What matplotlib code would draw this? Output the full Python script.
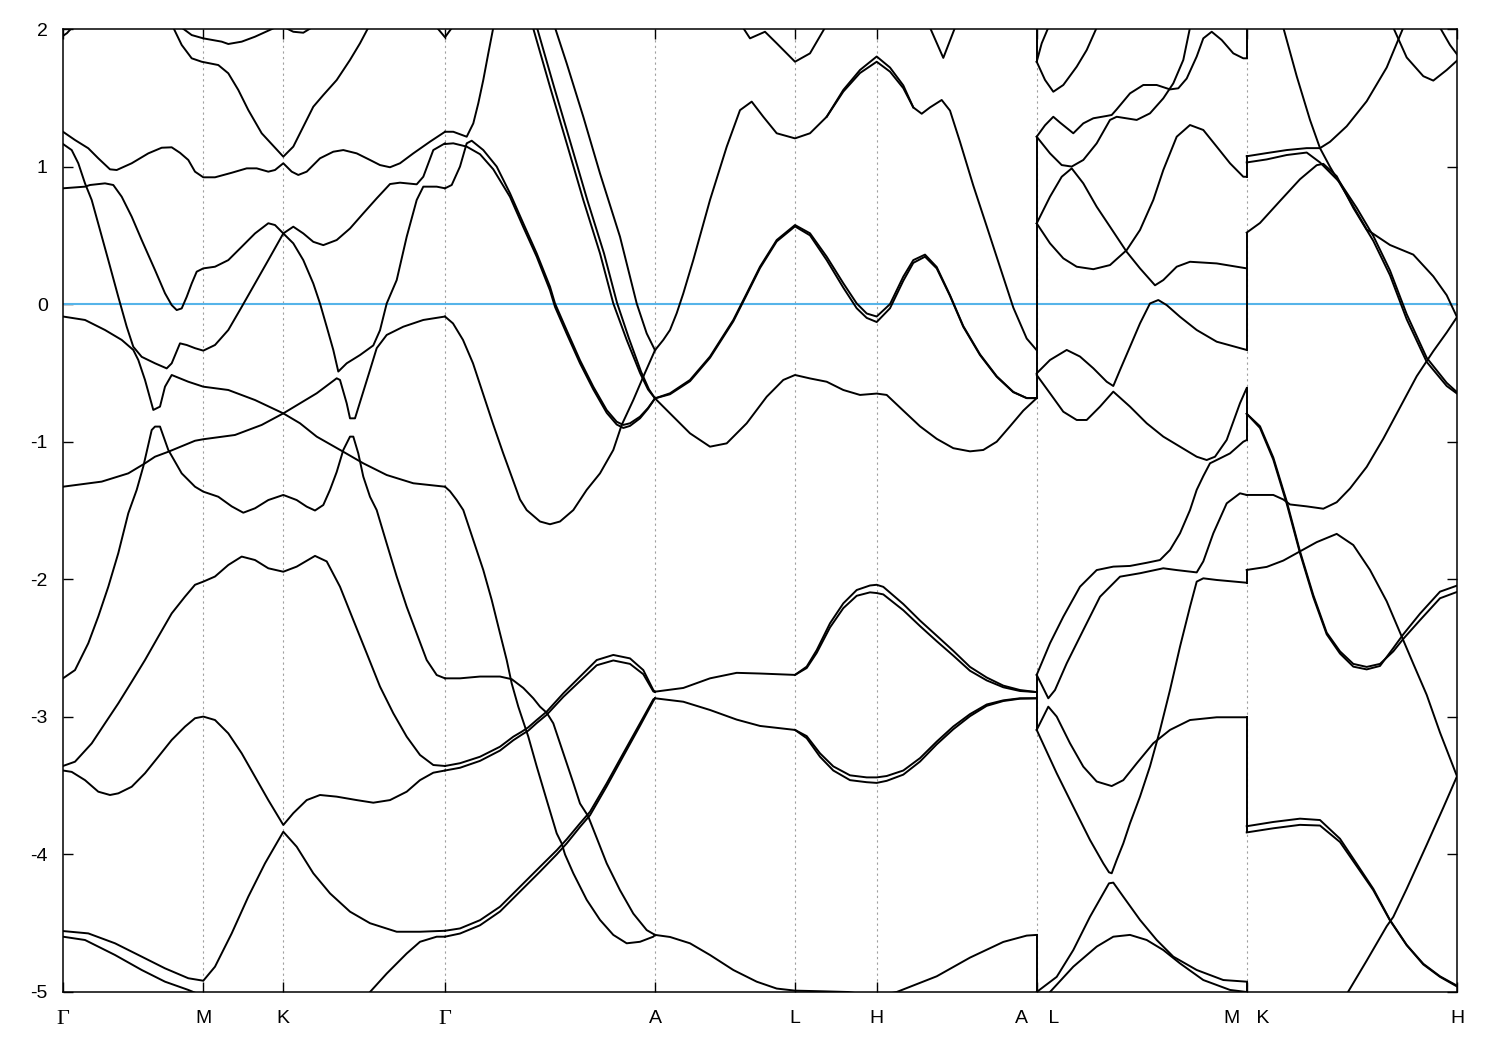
import numpy as np
import matplotlib
matplotlib.use('Agg')
import matplotlib.pyplot as plt

plt.rcParams['font.family'] = ['Liberation Sans', 'DejaVu Sans']
plt.rcParams['axes.unicode_minus'] = False

# high-symmetry points along the k-path (path length units)
k_ticks = [0.0, 1.403, 2.203, 3.82, 5.92, 7.32, 8.137, 9.737, 11.837, 13.94]
k_labels = ['Γ', 'M', 'K', 'Γ', 'A', 'L', 'H', 'A    L', 'M   K', 'H']
e_ticks = [-5, -4, -3, -2, -1, 0, 1, 2]
e_fermi = 0.0

# Gamma - M - K - Gamma, each branch as (k, E) pairs
bands_GMKG = [
    [(0.0, 1.95), (0.04, 1.97), (0.09, 2.01)],
    [(1.103, 2.01), (1.187, 1.884), (1.287, 1.787), (1.387, 1.762), (1.553, 1.738), (1.653, 1.678), (1.753, 1.557),
     (1.853, 1.411), (1.987, 1.242), (2.203, 1.072), (2.303, 1.145), (2.403, 1.29), (2.503, 1.435), (2.603, 1.52),
     (2.737, 1.629), (2.87, 1.775), (2.97, 1.896), (3.053, 2.01)],
    [(1.187, 2.01), (1.287, 1.956), (1.403, 1.932), (1.587, 1.908), (1.653, 1.891), (1.787, 1.908), (1.92, 1.944),
     (2.12, 2.01)],
    [(2.22, 2.01), (2.303, 1.98), (2.403, 1.973), (2.487, 2.01)],
    [(3.74, 2.01), (3.82, 1.94), (3.89, 2.01)],
    [(0.0, 1.253), (0.12, 1.193), (0.253, 1.133), (0.353, 1.06), (0.47, 0.98), (0.537, 0.975), (0.687, 1.024),
     (0.853, 1.096), (0.987, 1.137), (1.087, 1.14), (1.17, 1.10), (1.253, 1.048), (1.32, 0.963), (1.403, 0.922),
     (1.52, 0.922), (1.687, 0.955), (1.837, 0.987), (1.937, 0.987), (2.053, 0.963), (2.12, 0.975), (2.203, 1.024),
     (2.287, 0.963), (2.353, 0.939), (2.437, 0.963), (2.57, 1.06), (2.703, 1.108), (2.803, 1.12), (2.937, 1.096),
     (3.07, 1.048), (3.17, 1.011), (3.27, 0.995), (3.37, 1.024), (3.503, 1.096), (3.67, 1.181), (3.82, 1.253)],
    [(0.0, 1.164), (0.087, 1.12), (0.153, 1.024), (0.22, 0.878), (0.287, 0.757), (0.37, 0.539), (0.453, 0.32),
     (0.553, 0.053), (0.637, -0.164), (0.703, -0.31), (0.787, -0.383), (0.92, -0.43), (1.037, -0.467), (1.087, -0.43),
     (1.17, -0.285), (1.237, -0.297), (1.32, -0.32), (1.403, -0.338), (1.52, -0.297), (1.653, -0.188), (1.787, -0.02),
     (1.92, 0.15), (2.053, 0.32), (2.203, 0.514), (2.303, 0.563), (2.403, 0.514), (2.503, 0.453), (2.603, 0.429),
     (2.737, 0.466), (2.87, 0.55), (3.003, 0.66), (3.137, 0.769), (3.27, 0.873), (3.37, 0.883), (3.537, 0.871),
     (3.603, 0.926), (3.703, 1.12), (3.82, 1.169)],
    [(0.0, 0.842), (0.22, 0.854), (0.27, 0.866), (0.42, 0.878), (0.503, 0.866), (0.587, 0.781), (0.687, 0.636),
     (0.787, 0.466), (0.92, 0.248), (1.02, 0.079), (1.087, -0.007), (1.137, -0.043), (1.187, -0.031), (1.237, 0.053),
     (1.287, 0.15), (1.337, 0.236), (1.403, 0.26), (1.52, 0.272), (1.653, 0.32), (1.787, 0.417), (1.92, 0.514),
     (2.053, 0.588), (2.12, 0.575), (2.203, 0.514), (2.303, 0.442), (2.403, 0.32), (2.503, 0.15), (2.57, 0.005),
     (2.637, -0.164), (2.703, -0.333), (2.753, -0.49), (2.837, -0.43), (2.97, -0.37), (3.103, -0.30), (3.17, -0.19),
     (3.237, 0.005), (3.337, 0.175), (3.437, 0.49), (3.537, 0.757), (3.603, 0.854), (3.737, 0.854), (3.82, 0.842)],
    [(0.0, -0.09), (0.22, -0.115), (0.42, -0.188), (0.587, -0.26), (0.703, -0.333), (0.753, -0.406), (0.82, -0.551),
     (0.903, -0.769), (0.97, -0.745), (1.02, -0.6), (1.087, -0.515), (1.253, -0.564), (1.403, -0.6), (1.653, -0.624),
     (1.92, -0.697), (2.203, -0.794), (2.37, -0.721), (2.537, -0.648), (2.737, -0.539), (2.77, -0.551),
     (2.837, -0.721), (2.87, -0.83), (2.92, -0.83), (2.987, -0.673), (3.07, -0.479), (3.137, -0.32), (3.237, -0.224),
     (3.403, -0.164), (3.603, -0.115), (3.82, -0.09)],
    [(0.0, -1.327), (0.387, -1.29), (0.653, -1.23), (0.82, -1.157), (0.92, -1.109), (1.053, -1.073), (1.32, -0.993),
     (1.403, -0.982), (1.72, -0.951), (1.987, -0.878), (2.203, -0.794), (2.37, -0.866), (2.537, -0.963),
     (2.803, -1.073), (3.003, -1.157), (3.237, -1.242), (3.503, -1.302), (3.82, -1.327)],
    [(0.0, -2.72), (0.12, -2.66), (0.253, -2.465), (0.353, -2.27), (0.453, -2.054), (0.553, -1.81), (0.653, -1.52),
     (0.737, -1.35), (0.803, -1.18), (0.887, -0.915), (0.92, -0.89), (0.97, -0.89), (1.053, -1.06), (1.187, -1.23),
     (1.32, -1.327), (1.403, -1.363), (1.553, -1.40), (1.687, -1.47), (1.803, -1.516), (1.92, -1.484),
     (2.053, -1.424), (2.203, -1.387), (2.337, -1.424), (2.437, -1.472), (2.52, -1.50), (2.603, -1.46),
     (2.67, -1.35), (2.737, -1.22), (2.803, -1.06), (2.87, -0.963), (2.903, -0.963), (2.953, -1.085),
     (3.003, -1.254), (3.07, -1.40), (3.137, -1.497), (3.237, -1.74), (3.337, -1.98), (3.437, -2.20),
     (3.537, -2.394), (3.637, -2.587), (3.737, -2.696), (3.82, -2.72)],
    [(0.0, -3.357), (0.12, -3.326), (0.287, -3.193), (0.42, -3.047), (0.553, -2.902), (0.687, -2.745),
     (0.82, -2.587), (0.953, -2.417), (1.087, -2.248), (1.22, -2.126), (1.32, -2.04), (1.403, -2.017), (1.52, -1.98),
     (1.653, -1.896), (1.787, -1.835), (1.92, -1.86), (2.053, -1.92), (2.203, -1.945), (2.337, -1.908),
     (2.52, -1.83), (2.637, -1.87), (2.77, -2.054), (2.903, -2.296), (3.037, -2.538), (3.17, -2.78),
     (3.303, -2.974), (3.437, -3.144), (3.57, -3.277), (3.703, -3.35), (3.82, -3.357)],
    [(0.0, -3.39), (0.087, -3.40), (0.22, -3.46), (0.353, -3.544), (0.47, -3.568), (0.553, -3.556), (0.687, -3.508),
     (0.82, -3.41), (0.953, -3.29), (1.087, -3.168), (1.22, -3.071), (1.32, -3.01), (1.403, -2.998), (1.52, -3.023),
     (1.653, -3.12), (1.787, -3.265), (1.92, -3.435), (2.053, -3.605), (2.203, -3.786), (2.303, -3.70),
     (2.437, -3.605), (2.57, -3.568), (2.737, -3.58), (2.937, -3.605), (3.103, -3.624), (3.27, -3.605),
     (3.437, -3.544), (3.57, -3.46), (3.703, -3.406), (3.82, -3.39)],
    [(0.0, -4.557), (0.253, -4.574), (0.52, -4.646), (0.787, -4.743), (1.02, -4.828), (1.253, -4.9), (1.403, -4.918),
     (1.52, -4.816), (1.687, -4.574), (1.853, -4.307), (2.02, -4.065), (2.203, -3.835), (2.337, -3.944),
     (2.503, -4.137), (2.67, -4.283), (2.87, -4.416), (3.07, -4.50), (3.337, -4.562), (3.57, -4.562),
     (3.82, -4.555)],
    [(0.0, -4.598), (0.22, -4.622), (0.52, -4.731), (0.787, -4.84), (1.02, -4.925), (1.253, -4.985), (1.403, -5.03)],
    [(3.05, -5.03), (3.07, -5.0), (3.237, -4.866), (3.437, -4.72), (3.57, -4.635), (3.737, -4.598), (3.82, -4.598)],
]

# Gamma - A
bands_GA = [
    [(3.82, 1.253), (3.903, 1.253), (4.037, 1.217), (4.103, 1.314), (4.153, 1.46), (4.203, 1.63), (4.253, 1.823),
     (4.303, 2.01)],
    [(3.82, 0.842), (3.887, 0.866), (3.97, 1.0), (4.037, 1.169), (4.087, 1.188), (4.203, 1.12), (4.337, 1.0),
     (4.47, 0.806), (4.603, 0.587), (4.737, 0.369), (4.87, 0.127), (4.92, 0.005), (5.037, -0.19), (5.17, -0.408),
     (5.303, -0.60), (5.437, -0.77), (5.537, -0.855), (5.603, -0.878), (5.67, -0.866), (5.77, -0.818),
     (5.85, -0.755), (5.92, -0.685)],
    [(3.82, 1.164), (3.903, 1.169), (4.037, 1.145), (4.17, 1.09), (4.303, 0.98), (4.47, 0.78), (4.603, 0.56),
     (4.737, 0.345), (4.87, 0.10), (4.92, -0.02), (5.037, -0.215), (5.17, -0.43), (5.303, -0.62), (5.437, -0.79),
     (5.537, -0.875), (5.603, -0.9), (5.67, -0.885), (5.77, -0.83), (5.85, -0.76), (5.92, -0.685)],
    [(3.82, -0.09), (3.90, -0.14), (4.0, -0.26), (4.10, -0.43), (4.20, -0.65), (4.30, -0.87), (4.40, -1.08),
     (4.50, -1.28), (4.57, -1.42), (4.637, -1.497), (4.77, -1.58), (4.87, -1.60), (4.97, -1.58), (5.103, -1.497),
     (5.237, -1.35), (5.37, -1.23), (5.503, -1.06), (5.587, -0.878), (5.703, -0.697), (5.803, -0.527),
     (5.92, -0.335)],
    [(4.70, 2.01), (4.87, 1.58), (5.037, 1.169), (5.203, 0.757), (5.37, 0.369), (5.503, 0.005), (5.637, -0.26),
     (5.77, -0.50), (5.85, -0.62), (5.92, -0.685)],
    [(4.74, 2.01), (4.91, 1.58), (5.077, 1.169), (5.243, 0.757), (5.41, 0.369), (5.54, 0.01), (5.66, -0.25),
     (5.78, -0.49), (5.86, -0.62), (5.92, -0.685)],
    [(4.92, 2.01), (5.037, 1.75), (5.203, 1.362), (5.37, 0.95), (5.57, 0.49), (5.737, 0.005), (5.837, -0.213),
     (5.92, -0.335)],
    [(3.82, -1.327), (3.87, -1.36), (3.937, -1.424), (4.003, -1.497), (4.103, -1.715), (4.203, -1.933),
     (4.287, -2.15), (4.37, -2.393), (4.437, -2.587), (4.487, -2.757), (4.553, -2.926), (4.603, -3.035),
     (4.653, -3.144), (4.737, -3.36), (4.837, -3.605), (4.937, -3.847), (4.987, -3.92), (5.02, -4.0),
     (5.103, -4.137), (5.237, -4.33), (5.37, -4.476), (5.503, -4.585), (5.637, -4.646), (5.77, -4.635),
     (5.903, -4.598), (5.92, -4.585)],
    [(3.82, -4.555), (3.97, -4.538), (4.17, -4.478), (4.37, -4.38), (4.57, -4.235), (4.77, -4.09), (4.937, -3.97),
     (5.037, -3.89), (5.17, -3.774), (5.27, -3.69), (5.437, -3.483), (5.603, -3.265), (5.77, -3.047),
     (5.903, -2.873), (5.92, -2.865)],
    [(3.82, -4.598), (3.97, -4.575), (4.17, -4.515), (4.37, -4.415), (4.57, -4.27), (4.77, -4.125), (4.937, -4.0),
     (5.037, -3.92), (5.17, -3.80), (5.27, -3.715), (5.437, -3.505), (5.603, -3.285), (5.77, -3.065),
     (5.903, -2.885), (5.92, -2.865)],
    [(3.82, -3.357), (3.97, -3.337), (4.17, -3.29), (4.37, -3.217), (4.503, -3.144), (4.587, -3.108),
     (4.653, -3.076), (4.737, -3.023), (4.837, -2.962), (5.003, -2.829), (5.17, -2.708), (5.337, -2.587),
     (5.503, -2.55), (5.67, -2.575), (5.803, -2.66), (5.903, -2.805), (5.92, -2.817)],
    [(3.82, -3.39), (3.97, -3.37), (4.17, -3.32), (4.37, -3.245), (4.503, -3.17), (4.587, -3.13), (4.653, -3.10),
     (4.737, -3.045), (4.837, -2.985), (5.003, -2.855), (5.17, -2.74), (5.337, -2.625), (5.503, -2.59),
     (5.67, -2.615), (5.803, -2.69), (5.903, -2.815), (5.92, -2.82)],
    [(3.82, -2.72), (3.97, -2.72), (4.17, -2.707), (4.37, -2.707), (4.487, -2.726), (4.603, -2.79), (4.703, -2.865),
     (4.77, -2.926), (4.837, -2.97), (4.903, -3.047), (4.97, -3.192), (5.037, -3.337), (5.103, -3.48),
     (5.17, -3.63), (5.25, -3.72), (5.337, -3.88), (5.437, -4.065), (5.57, -4.26), (5.703, -4.43), (5.837, -4.55),
     (5.92, -4.585)],
]

# A - L - H - A
bands_ALHA = [
    [(5.92, -0.335), (6.003, -0.26), (6.07, -0.188), (6.137, -0.066), (6.203, 0.078), (6.303, 0.321), (6.47, 0.757),
     (6.637, 1.144), (6.77, 1.41), (6.887, 1.472), (7.003, 1.362), (7.137, 1.242), (7.32, 1.205), (7.47, 1.242),
     (7.637, 1.362), (7.803, 1.557), (7.97, 1.702), (8.137, 1.8), (8.27, 1.72), (8.403, 1.59), (8.503, 1.43),
     (8.587, 1.384), (8.67, 1.43), (8.787, 1.484), (8.87, 1.407), (8.97, 1.18), (9.103, 0.862), (9.237, 0.566),
     (9.37, 0.27), (9.503, -0.025), (9.637, -0.25), (9.737, -0.335)],
    [(7.637, 1.362), (7.803, 1.545), (7.97, 1.68), (8.137, 1.762), (8.27, 1.69), (8.403, 1.57), (8.503, 1.43)],
    [(5.92, -0.685), (6.07, -0.648), (6.27, -0.551), (6.47, -0.381), (6.703, -0.115), (6.837, 0.078), (6.97, 0.272),
     (7.137, 0.466), (7.32, 0.575), (7.47, 0.515), (7.637, 0.345), (7.803, 0.152), (7.937, 0.005), (8.037, -0.068),
     (8.137, -0.09), (8.27, 0.0), (8.403, 0.2), (8.503, 0.32), (8.62, 0.36), (8.737, 0.27), (8.87, 0.065),
     (9.003, -0.16), (9.17, -0.365), (9.337, -0.524), (9.503, -0.638), (9.637, -0.683), (9.737, -0.683)],
    [(5.92, -0.685), (6.07, -0.655), (6.27, -0.56), (6.47, -0.39), (6.703, -0.125), (6.837, 0.068), (6.97, 0.262),
     (7.137, 0.456), (7.32, 0.565), (7.47, 0.50), (7.637, 0.32), (7.803, 0.12), (7.937, -0.03), (8.037, -0.10),
     (8.137, -0.13), (8.27, -0.03), (8.403, 0.17), (8.503, 0.30), (8.62, 0.345), (8.737, 0.26), (8.87, 0.06),
     (9.003, -0.165), (9.17, -0.37), (9.337, -0.528), (9.503, -0.64), (9.637, -0.683), (9.737, -0.683)],
    [(5.92, -0.685), (6.07, -0.794), (6.27, -0.939), (6.47, -1.036), (6.637, -1.012), (6.837, -0.866),
     (7.037, -0.673), (7.203, -0.551), (7.32, -0.515), (7.47, -0.54), (7.637, -0.564), (7.803, -0.624),
     (7.97, -0.66), (8.137, -0.65), (8.237, -0.66), (8.403, -0.774), (8.57, -0.888), (8.737, -0.979),
     (8.903, -1.047), (9.07, -1.07), (9.203, -1.06), (9.337, -1.0), (9.47, -0.888), (9.603, -0.774),
     (9.737, -0.683)],
    [(6.80, 2.01), (6.87, 1.932), (7.02, 1.98), (7.137, 1.896), (7.32, 1.762), (7.47, 1.823), (7.62, 2.01)],
    [(8.67, 2.01), (8.803, 1.79), (8.92, 2.01)],
    [(5.92, -2.817), (6.203, -2.79), (6.47, -2.72), (6.737, -2.68), (6.97, -2.685), (7.32, -2.695), (7.437, -2.635),
     (7.537, -2.515), (7.67, -2.32), (7.803, -2.175), (7.937, -2.078), (8.07, -2.045), (8.137, -2.04),
     (8.203, -2.055), (8.403, -2.18), (8.57, -2.30), (8.737, -2.41), (8.903, -2.52), (9.07, -2.637),
     (9.237, -2.714), (9.403, -2.773), (9.57, -2.805), (9.737, -2.82)],
    [(7.32, -2.695), (7.437, -2.645), (7.537, -2.535), (7.67, -2.35), (7.803, -2.21), (7.937, -2.12),
     (8.07, -2.095), (8.137, -2.10), (8.203, -2.11), (8.403, -2.225), (8.57, -2.34), (8.737, -2.45),
     (8.903, -2.555), (9.07, -2.665), (9.237, -2.735), (9.403, -2.785), (9.57, -2.812), (9.737, -2.82)],
    [(5.92, -2.865), (6.203, -2.89), (6.47, -2.95), (6.737, -3.02), (6.97, -3.066), (7.32, -3.095), (7.437, -3.14),
     (7.57, -3.265), (7.703, -3.36), (7.87, -3.425), (8.037, -3.44), (8.137, -3.44), (8.237, -3.43), (8.403, -3.39),
     (8.57, -3.30), (8.737, -3.18), (8.903, -3.07), (9.07, -2.98), (9.237, -2.91), (9.403, -2.88), (9.57, -2.865),
     (9.737, -2.865)],
    [(7.32, -3.095), (7.437, -3.155), (7.57, -3.29), (7.703, -3.39), (7.87, -3.46), (8.037, -3.475), (8.137, -3.48),
     (8.237, -3.465), (8.403, -3.42), (8.57, -3.325), (8.737, -3.20), (8.903, -3.09), (9.07, -2.995),
     (9.237, -2.92), (9.403, -2.885), (9.57, -2.868), (9.737, -2.865)],
    [(5.92, -4.585), (6.07, -4.6), (6.27, -4.646), (6.47, -4.731), (6.703, -4.84), (6.937, -4.925), (7.137, -4.975),
     (7.32, -4.99), (7.60, -4.995), (7.85, -5.0), (8.137, -5.03), (8.337, -5.0), (8.737, -4.886), (9.07, -4.75),
     (9.403, -4.636), (9.637, -4.59), (9.737, -4.585)],
]

# L - M
bands_LM = [
    [(9.737, 1.762), (9.82, 1.63), (9.903, 1.544), (10.003, 1.593), (10.137, 1.726), (10.237, 1.847), (10.337, 2.01)],
    [(9.737, 1.762), (9.787, 1.896), (9.853, 2.01)],
    [(9.737, 1.217), (9.82, 1.30), (9.903, 1.362), (9.97, 1.32), (10.103, 1.242), (10.203, 1.314), (10.303, 1.351),
     (10.437, 1.368), (10.487, 1.375), (10.537, 1.416), (10.67, 1.532), (10.803, 1.593), (10.937, 1.593),
     (11.07, 1.561), (11.153, 1.569), (11.237, 1.64), (11.337, 1.8), (11.403, 1.932), (11.487, 1.98),
     (11.587, 1.92), (11.703, 1.823), (11.803, 1.787), (11.837, 1.787)],
    [(9.737, 1.217), (9.87, 1.096), (9.987, 1.011), (10.087, 1.0), (10.203, 1.048), (10.337, 1.169), (10.47, 1.339),
     (10.537, 1.362), (10.737, 1.339), (10.87, 1.387), (11.003, 1.496), (11.103, 1.605), (11.203, 1.775),
     (11.27, 2.01)],
    [(9.737, 0.587), (9.87, 0.781), (9.987, 0.926), (10.087, 0.987), (10.203, 0.878), (10.337, 0.708), (10.47, 0.563),
     (10.637, 0.38), (10.77, 0.26), (10.92, 0.137), (11.003, 0.175), (11.137, 0.272), (11.27, 0.308),
     (11.537, 0.296), (11.837, 0.26)],
    [(9.737, 0.587), (9.87, 0.442), (10.003, 0.333), (10.137, 0.272), (10.303, 0.254), (10.47, 0.284), (10.637, 0.393),
     (10.77, 0.539), (10.903, 0.757), (11.003, 0.975), (11.137, 1.217), (11.27, 1.302), (11.403, 1.266),
     (11.537, 1.145), (11.67, 1.024), (11.803, 0.926), (11.837, 0.926)],
    [(9.737, -0.503), (9.87, -0.406), (10.037, -0.333), (10.17, -0.381), (10.303, -0.466), (10.437, -0.564),
     (10.503, -0.595), (10.57, -0.479), (10.67, -0.31), (10.77, -0.14), (10.87, 0.005), (10.953, 0.03),
     (11.037, -0.007), (11.17, -0.092), (11.337, -0.188), (11.537, -0.273), (11.837, -0.333)],
    [(9.737, -0.515), (9.87, -0.648), (10.003, -0.782), (10.137, -0.842), (10.237, -0.842), (10.37, -0.745),
     (10.503, -0.636), (10.67, -0.745), (10.837, -0.866), (11.003, -0.963), (11.17, -1.036), (11.337, -1.109),
     (11.437, -1.133), (11.52, -1.109), (11.637, -0.987), (11.77, -0.72), (11.837, -0.61)],
    [(9.737, -2.695), (9.87, -2.465), (10.003, -2.272), (10.17, -2.054), (10.337, -1.933), (10.503, -1.908),
     (10.67, -1.903), (10.837, -1.88), (10.97, -1.86), (11.07, -1.787), (11.17, -1.666), (11.27, -1.497),
     (11.337, -1.35), (11.403, -1.25), (11.47, -1.157), (11.537, -1.133), (11.67, -1.085), (11.803, -1.0),
     (11.837, -0.988)],
    [(9.737, -2.695), (9.853, -2.865), (9.92, -2.805), (10.037, -2.611), (10.203, -2.369), (10.37, -2.127),
     (10.57, -1.981), (10.77, -1.956), (11.003, -1.92), (11.137, -1.933), (11.337, -1.95), (11.403, -1.87),
     (11.503, -1.666), (11.637, -1.448), (11.77, -1.375), (11.837, -1.387)],
    [(9.737, -3.095), (9.937, -3.41), (10.103, -3.653), (10.27, -3.895), (10.403, -4.065), (10.46, -4.13),
     (10.487, -4.137), (10.537, -4.04), (10.603, -3.92), (10.67, -3.774), (10.77, -3.58), (10.87, -3.36),
     (10.97, -3.096), (11.07, -2.805), (11.17, -2.49), (11.27, -2.2), (11.337, -2.017), (11.403, -1.993),
     (11.537, -2.005), (11.837, -2.025)],
    [(9.737, -3.095), (9.853, -2.926), (9.937, -2.998), (10.07, -3.192), (10.203, -3.362), (10.337, -3.47),
     (10.487, -3.503), (10.603, -3.46), (10.737, -3.338), (10.903, -3.192), (11.07, -3.095), (11.27, -3.023),
     (11.537, -3.003), (11.837, -3.003)],
    [(9.737, -5.0), (9.937, -4.89), (10.103, -4.695), (10.27, -4.453), (10.46, -4.21), (10.503, -4.205),
     (10.603, -4.307), (10.77, -4.476), (10.937, -4.622), (11.103, -4.743), (11.337, -4.84), (11.603, -4.913),
     (11.837, -4.925)],
    [(9.85, -5.03), (9.87, -5.0), (10.103, -4.816), (10.337, -4.67), (10.503, -4.598), (10.67, -4.585),
     (10.837, -4.622), (11.003, -4.695), (11.17, -4.792), (11.403, -4.913), (11.67, -4.985), (11.837, -5.0)],
]

# K - H
bands_KH = [
    [(11.837, 1.075), (12.037, 1.098), (12.237, 1.12), (12.437, 1.134), (12.57, 1.134), (12.67, 1.18),
     (12.837, 1.293), (13.037, 1.475), (13.237, 1.72), (13.403, 2.01)],
    [(12.203, 2.01), (12.337, 1.657), (12.47, 1.339), (12.57, 1.134), (12.67, 0.998), (12.837, 0.793),
     (13.037, 0.543), (13.27, 0.43), (13.503, 0.36), (13.703, 0.202), (13.837, 0.065), (13.94, -0.094)],
    [(11.837, 1.03), (12.037, 1.052), (12.237, 1.084), (12.437, 1.102), (12.57, 1.03), (12.77, 0.884),
     (12.937, 0.70), (13.103, 0.496), (13.27, 0.245), (13.437, -0.073), (13.637, -0.39), (13.837, -0.572),
     (13.94, -0.64)],
    [(11.837, 0.52), (11.97, 0.59), (12.17, 0.75), (12.37, 0.908), (12.537, 1.01), (12.603, 1.02), (12.737, 0.93),
     (12.903, 0.70), (13.103, 0.46), (13.27, 0.21), (13.437, -0.11), (13.637, -0.42), (13.837, -0.595),
     (13.94, -0.65)],
    [(11.837, -0.797), (11.97, -0.888), (12.103, -1.115), (12.237, -1.433), (12.37, -1.797), (12.503, -2.115),
     (12.637, -2.388), (12.77, -2.524), (12.903, -2.615), (13.037, -2.637), (13.17, -2.615), (13.303, -2.524),
     (13.403, -2.433), (13.57, -2.297), (13.77, -2.138), (13.94, -2.092)],
    [(11.837, -0.797), (11.97, -0.90), (12.103, -1.13), (12.237, -1.45), (12.37, -1.81), (12.503, -2.13),
     (12.637, -2.40), (12.77, -2.54), (12.903, -2.635), (13.037, -2.655), (13.17, -2.63), (13.303, -2.50),
     (13.403, -2.40), (13.57, -2.25), (13.77, -2.09), (13.94, -2.046)],
    [(11.837, -1.387), (12.103, -1.387), (12.203, -1.42), (12.27, -1.456), (12.437, -1.47), (12.603, -1.487),
     (12.737, -1.44), (12.87, -1.34), (13.037, -1.183), (13.203, -0.978), (13.37, -0.751), (13.537, -0.524),
     (13.703, -0.342), (13.837, -0.206), (13.94, -0.094)],
    [(11.837, -1.932), (12.037, -1.91), (12.203, -1.864), (12.37, -1.797), (12.537, -1.73), (12.737, -1.67),
     (12.903, -1.751), (13.07, -1.932), (13.237, -2.16), (13.37, -2.387), (13.503, -2.614), (13.637, -2.84),
     (13.77, -3.114), (13.94, -3.432)],
    [(11.837, -3.795), (12.103, -3.764), (12.37, -3.74), (12.57, -3.75), (12.77, -3.886), (12.937, -4.068),
     (13.103, -4.25), (13.27, -4.477), (13.437, -4.658), (13.603, -4.795), (13.77, -4.886), (13.94, -4.954)],
    [(11.837, -3.84), (12.103, -3.81), (12.37, -3.785), (12.57, -3.79), (12.77, -3.91), (12.937, -4.085),
     (13.103, -4.26), (13.27, -4.48), (13.437, -4.66), (13.603, -4.80), (13.77, -4.89), (13.94, -4.96)],
    [(12.837, -5.03), (12.85, -5.0), (13.037, -4.772), (13.237, -4.522), (13.303, -4.454), (13.437, -4.25),
     (13.637, -3.93), (13.803, -3.66), (13.94, -3.432)],
    [(13.303, 2.01), (13.437, 1.793), (13.603, 1.657), (13.703, 1.625), (13.837, 1.702), (13.94, 1.77)],
    [(13.77, 2.01), (13.87, 1.884), (13.94, 1.816)],
]

# band jumps drawn at the path breaks A|L and M|K: (k, E from, E to)
jumps = [
    (9.737, 1.762, 2.05), (9.737, -0.685, 1.217), (9.737, -3.095, -2.695), (9.737, -5.05, -4.585),
    (11.837, 1.787, 2.05), (11.837, 0.926, 1.075), (11.837, -0.333, 0.52), (11.837, -0.988, -0.61),
    (11.837, -2.025, -1.932), (11.837, -3.84, -3.003), (11.837, -5.05, -4.925),
]


fig = plt.figure(figsize=(15, 10.5), dpi=100)
ax = fig.add_axes([63 / 1500, 58 / 1050, 1394 / 1500, 963 / 1050])

for k in k_ticks[1:-1]:
    ax.axvline(k, color='#a0a0a0', lw=0.8, ls=(0, (2, 3)), zorder=1)

for seg in (bands_GMKG, bands_GA, bands_ALHA, bands_LM, bands_KH):
    for b in seg:
        b = np.array(b)
        ax.plot(b[:, 0], b[:, 1], color='black', lw=1.4, zorder=3)
for k, e0, e1 in jumps:
    ax.plot([k, k], [e0, e1], color='black', lw=1.4, zorder=3)

ax.axhline(e_fermi, color='#56b4e9', lw=1.5, zorder=2)

ax.set_xlim(k_ticks[0], k_ticks[-1])
ax.set_ylim(-5, 2)
ax.set_xticks(k_ticks)
ax.set_xticklabels(k_labels, fontsize=14)
ax.set_yticks(e_ticks)
ax.set_yticklabels([str(e) for e in e_ticks], fontsize=14)
for lab in ax.get_xticklabels():
    if lab.get_text() == 'Γ':
        lab.set_fontfamily('Liberation Serif')
        lab.set_fontsize(16)
ax.tick_params(direction='in', length=7, width=1.0, top=True, right=True)
ax.tick_params(axis='y', pad=11)
ax.tick_params(axis='x', pad=13)
for s in ax.spines.values():
    s.set_linewidth(1.1)

fig.savefig('out.png', dpi=100)
